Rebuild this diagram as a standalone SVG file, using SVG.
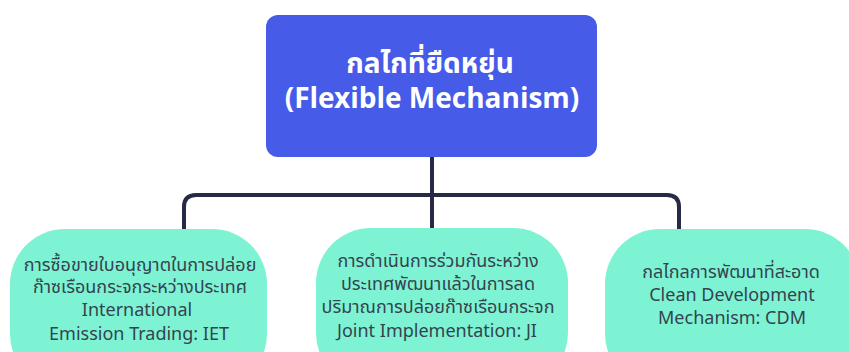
<svg xmlns="http://www.w3.org/2000/svg" width="849" height="352" viewBox="0 0 849 352">
<style>
.conn{fill:none;stroke:#262a44;stroke-width:4;stroke-linecap:butt;stroke-linejoin:round}
.child{fill:#7ef3d3}
.ctext{font-family:"Noto Sans Thai","Noto Sans","Liberation Sans",sans-serif;font-size:18px;fill:#34434f;text-anchor:middle;dominant-baseline:middle}
.ttext{font-family:"Noto Sans Thai","Noto Sans","Liberation Sans",sans-serif;font-size:28px;font-weight:bold;fill:#ffffff;text-anchor:middle;dominant-baseline:middle}
</style>
<rect width="849" height="352" fill="#ffffff"/>
<g id="connectors">
<path class="conn" d="M432 157 V232"/>
<path class="conn" d="M184 232 V207 Q184 195 196 195 H667 Q679 195 679 207 V232"/>
</g>
<g id="root">
<rect x="266" y="15" width="331" height="142" rx="12" fill="#465be8"/>
<text class="ttext" x="430" y="65">กลไกที่ยืดหยุ่น</text>
<text class="ttext" x="432" y="100">(Flexible Mechanism)</text>
</g>
<g id="iet">
<rect class="child" x="10" y="229" width="257" height="160" rx="55"/>
<text class="ctext" x="140" y="266">การซื้อขายใบอนุญาตในการปล่อย</text>
<text class="ctext" x="140" y="288">ก๊าซเรือนกระจกระหว่างประเทศ</text>
<text class="ctext" x="137" y="311">International</text>
<text class="ctext" x="139" y="335">Emission Trading: IET</text>
</g>
<g id="ji">
<rect class="child" x="316" y="228" width="252" height="160" rx="55"/>
<text class="ctext" x="438" y="262">การดำเนินการร่วมกันระหว่าง</text>
<text class="ctext" x="438" y="285">ประเทศพัฒนาแล้วในการลด</text>
<text class="ctext" x="438" y="308">ปริมาณการปล่อยก๊าซเรือนกระจก</text>
<text class="ctext" x="437" y="332">Joint  Implementation: JI</text>
</g>
<g id="cdm">
<rect class="child" x="605" y="229" width="255" height="160" rx="55"/>
<text class="ctext" x="731" y="273">กลไกลการพัฒนาที่สะอาด</text>
<text class="ctext" x="732" y="296">Clean Development</text>
<text class="ctext" x="732" y="319">Mechanism: CDM</text>
</g>
</svg>
